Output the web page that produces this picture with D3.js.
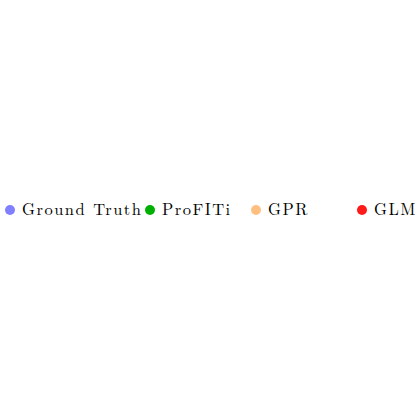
<!DOCTYPE html>
<html><head><meta charset="utf-8">
<script src="https://cdn.jsdelivr.net/npm/d3@7"></script>
<style>html,body{margin:0;padding:0;background:#fff;}</style>
</head><body>
<svg id="c" width="420" height="420"></svg>
<script>
const labels = ["Ground Truth", "ProFITi", "GPR", "GLM"];
const colors = ["#7f7fff", "#00b000", "#ffbf80", "#ff1a1a"];
const itemOffsets = [0, 140, 246, 352];

const svg = d3.select("#c");
const g = svg.append("g").attr("transform", "translate(10,210)");
const items = g.selectAll("g.item").data(labels).join("g")
  .attr("class", "item")
  .attr("transform", (d, i) => `translate(${itemOffsets[i]},0)`);
items.append("circle").attr("r", 5).attr("fill", (d, i) => colors[i]);
items.append("text").attr("x", 12).attr("y", 4.5)
  .attr("font-family", "'Latin Modern Roman','CMU Serif','DejaVu Serif',serif")
  .attr("font-size", 16.5).attr("letter-spacing", 1.5).attr("fill", "#000")
  .text(d => d);
</script>
</body></html>
